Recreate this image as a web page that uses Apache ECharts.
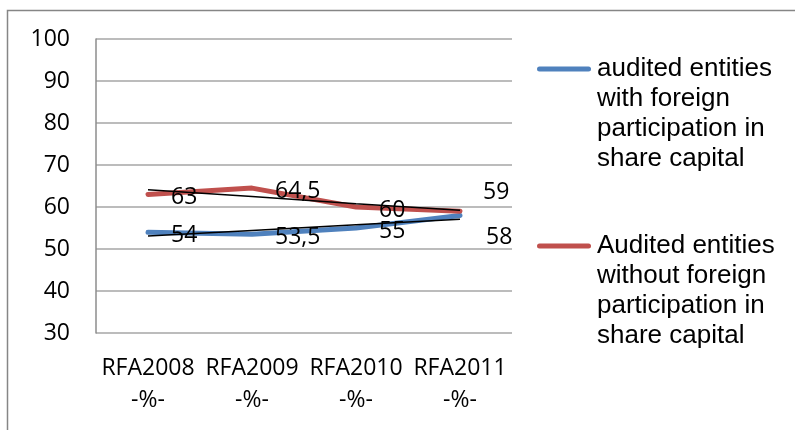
<!DOCTYPE html>
<html>
<head>
<meta charset="utf-8">
<script src="https://cdn.jsdelivr.net/npm/echarts@6/dist/echarts.min.js"></script>
<style>
  html, body { margin: 0; padding: 0; background: #fff; }
  #chart { width: 795px; height: 430px; }
</style>
</head>
<body>
<div id="chart"></div>
<script>
// data
const categories = ['RFA2008\n-%-', 'RFA2009\n-%-', 'RFA2010\n-%-', 'RFA2011\n-%-'];
const foreignValues = [54, 53.5, 55, 58];
const domesticValues = [63, 64.5, 60, 59];
// black linear trend lines
const foreignTrend = [53.1, 54.4, 55.8, 57.1];
const domesticTrend = [64.1, 62.5, 60.8, 59.2];
const foreignName = 'audited entities\nwith foreign\nparticipation in\nshare capital';
const domesticName = 'Audited entities\nwithout foreign\nparticipation in\nshare capital';

const chart = echarts.init(document.getElementById('chart'));

const labelFont = { fontFamily: 'Open Sans', fontSize: 23, color: '#000' };
const fmt = p => String(p.value).replace('.', ',');

// last-point labels sit above / below the line end
function withLastOffset(values, offset) {
  return values.map((v, i) => i === values.length - 1
    ? { value: v, label: { offset: offset } }
    : v);
}

// legend icon: a rounded bar at the height of the first text line,
// inside a box as tall as the 4-line label (so text stays top-aligned)
const legendIcon = 'path://M0,0 L0,0 M3.5,12.5 L52.5,12.5 A2.5,2.5 0 0 1 52.5,17.5 ' +
  'L3.5,17.5 A2.5,2.5 0 0 1 3.5,12.5 Z M56,120 L56,120';

const legendBase = {
  left: 536,
  padding: 0,
  itemWidth: 56, itemHeight: 120, itemGap: 0,
  icon: legendIcon,
  itemStyle: { borderWidth: 0 },
  textStyle: { fontFamily: 'Liberation Sans', fontSize: 26, lineHeight: 30, color: '#000' },
  selectedMode: false
};

const option = {
  animation: false,
  backgroundColor: '#fff',
  graphic: [{
    type: 'rect',
    shape: { x: 7.5, y: 10.5, width: 800, height: 440 },
    style: { fill: 'none', stroke: '#868686', lineWidth: 1.5 },
    silent: true
  }],
  grid: { left: 96, top: 39, width: 416, height: 294 },
  legend: [
    { ...legendBase, data: [foreignName], top: 54 },
    { ...legendBase, data: [domesticName], top: 231 }
  ],
  xAxis: {
    type: 'category',
    data: categories,
    boundaryGap: true,
    axisLine: { show: false },
    axisTick: { show: false },
    axisLabel: { ...labelFont, margin: 19, lineHeight: 32, interval: 0 }
  },
  yAxis: {
    type: 'value',
    min: 30, max: 100, interval: 10,
    axisLine: { show: true, lineStyle: { color: '#8c8c8c', width: 1.5 } },
    axisTick: { show: false },
    axisLabel: { ...labelFont, margin: 26 },
    splitLine: { lineStyle: { color: '#a6a6a6', width: 1.5 } }
  },
  series: [
    {
      name: foreignName,
      type: 'line',
      data: withLastOffset(foreignValues, [3, 22]),
      symbol: 'circle',
      symbolSize: 0.1,
      lineStyle: { color: '#4f81bd', width: 5, cap: 'round', join: 'round' },
      itemStyle: { color: '#4f81bd' },
      label: { show: true, position: 'right', distance: 23, offset: [0, 3], formatter: fmt, ...labelFont },
      z: 2
    },
    {
      name: domesticName,
      type: 'line',
      data: withLastOffset(domesticValues, [0, -19]),
      symbol: 'circle',
      symbolSize: 0.1,
      lineStyle: { color: '#c0504d', width: 5, cap: 'round', join: 'round' },
      itemStyle: { color: '#c0504d' },
      label: { show: true, position: 'right', distance: 23, offset: [0, 3], formatter: fmt, ...labelFont },
      z: 2
    },
    {
      name: 'trendForeign',
      type: 'line',
      data: foreignTrend,
      symbol: 'none',
      lineStyle: { color: '#000', width: 1.5 },
      z: 3,
      silent: true
    },
    {
      name: 'trendDomestic',
      type: 'line',
      data: domesticTrend,
      symbol: 'none',
      lineStyle: { color: '#000', width: 1.5 },
      z: 3,
      silent: true
    }
  ]
};

chart.setOption(option);
</script>
</body>
</html>
